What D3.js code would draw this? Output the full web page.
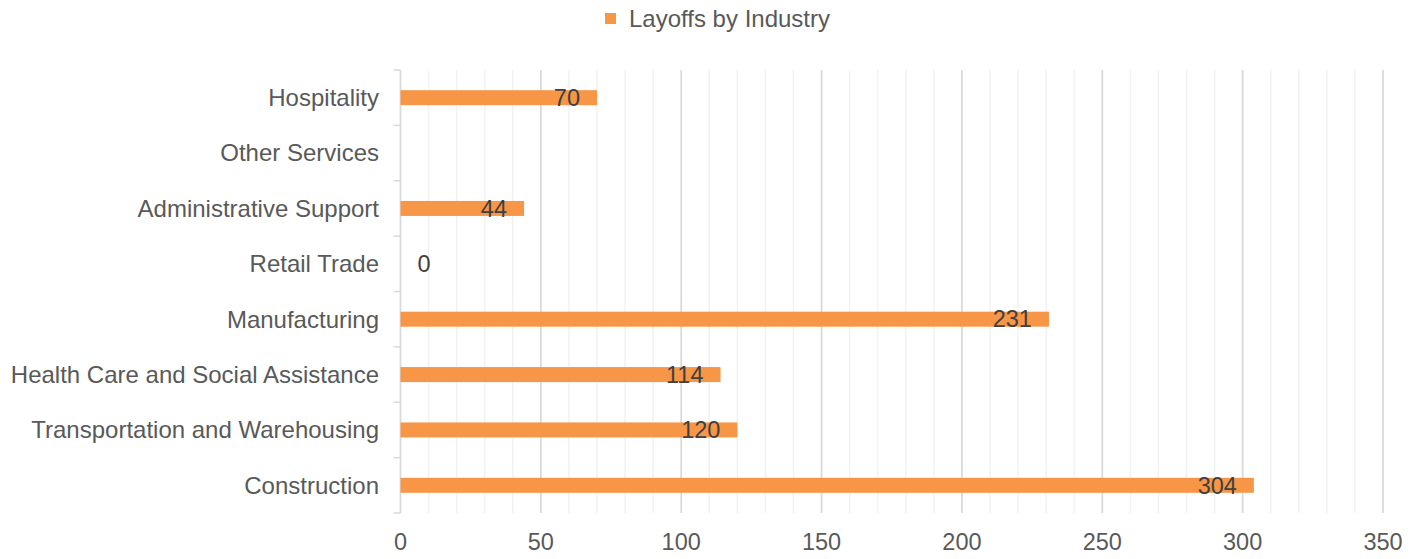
<!DOCTYPE html>
<html>
<head>
<meta charset="utf-8">
<script src="https://cdn.jsdelivr.net/npm/d3@7"></script>
<style>
  html, body { margin: 0; padding: 0; background: #fff; }
  svg { display: block; font-family: "Liberation Sans", Arial, sans-serif; }
</style>
</head>
<body>
<svg id="chart" width="1421" height="559"></svg>
<script>
// Layoffs by industry, listed top to bottom
const categories = [
  "Hospitality",
  "Other Services",
  "Administrative Support",
  "Retail Trade",
  "Manufacturing",
  "Health Care and Social Assistance",
  "Transportation and Warehousing",
  "Construction"
];
// null = no reported figure (no bar, no label)
const layoffs = [70, null, 44, 0, 231, 114, 120, 304];
const xTicks = [0, 50, 100, 150, 200, 250, 300, 350];
const seriesName = "Layoffs by Industry";

const svg = d3.select("#chart");
const margin = { left: 400.5, right: 38, top: 70, bottom: 46 };
const W = 1421, H = 559;
const textSize = 24, numSize = 23.5;

const x = d3.scaleLinear().domain([0, 350]).range([margin.left, W - margin.right]);
const y = d3.scaleBand().domain(categories).range([margin.top, H - margin.bottom]).paddingInner(0).paddingOuter(0);

// minor gridlines every 10
const minor = d3.range(10, 351, 10).filter(v => v % 50 !== 0);
svg.append("g").selectAll("line").data(minor).join("line")
  .attr("x1", d => x(d)).attr("x2", d => x(d))
  .attr("y1", margin.top).attr("y2", H - margin.bottom)
  .attr("stroke", "#f2f2f2").attr("stroke-width", 1.5);

// major gridlines
svg.append("g").selectAll("line").data(xTicks.filter(v => v > 0)).join("line")
  .attr("x1", d => x(d)).attr("x2", d => x(d))
  .attr("y1", margin.top).attr("y2", H - margin.bottom)
  .attr("stroke", "#d9d9d9").attr("stroke-width", 1.75);

// category axis line and boundary ticks
svg.append("line")
  .attr("x1", x(0)).attr("x2", x(0))
  .attr("y1", margin.top).attr("y2", H - margin.bottom)
  .attr("stroke", "#d9d9d9").attr("stroke-width", 1.75);
const bounds = categories.map(c => y(c)).concat([y.range()[1]]);
svg.append("g").selectAll("line").data(bounds).join("line")
  .attr("x1", x(0) - 7).attr("x2", x(0))
  .attr("y1", d => d).attr("y2", d => d)
  .attr("stroke", "#d9d9d9").attr("stroke-width", 1.5);

// category labels
svg.append("g").selectAll("text").data(categories).join("text")
  .attr("x", 379).attr("y", d => y(d) + y.bandwidth() / 2)
  .attr("dy", "0.35em").attr("text-anchor", "end")
  .attr("font-size", textSize).attr("fill", "#595959")
  .text(d => d);

// value axis labels
svg.append("g").selectAll("text").data(xTicks).join("text")
  .attr("x", d => x(d)).attr("y", 542)
  .attr("dy", "0.35em").attr("text-anchor", "middle")
  .attr("font-size", numSize).attr("fill", "#595959")
  .text(d => d);

// bars
const rows = categories.map((c, i) => ({ c, v: layoffs[i] })).filter(d => d.v !== null);
const barH = 15;
svg.append("g").selectAll("rect").data(rows.filter(d => d.v > 0)).join("rect")
  .attr("x", x(0)).attr("y", d => y(d.c) + y.bandwidth() / 2 - barH / 2)
  .attr("width", d => x(d.v) - x(0)).attr("height", barH)
  .attr("fill", "#f79646");

// value labels, inside the bar end
svg.append("g").selectAll("text").data(rows).join("text")
  .attr("y", d => y(d.c) + y.bandwidth() / 2)
  .attr("dy", "0.35em")
  .attr("font-size", numSize).attr("fill", "#404040")
  .text(d => d.v)
  .each(function (d) {
    const w = this.getComputedTextLength();
    const endX = x(d.v) - 17;
    if (endX - w < x(0)) {
      d3.select(this).attr("text-anchor", "start").attr("x", x(0) + 17);
    } else {
      d3.select(this).attr("text-anchor", "end").attr("x", endX);
    }
  });

// legend
const lg = svg.append("g");
lg.append("rect").attr("x", 605).attr("y", 13).attr("width", 11).attr("height", 11).attr("fill", "#f79646");
lg.append("text").attr("x", 629).attr("y", 19).attr("dy", "0.35em")
  .attr("font-size", textSize).attr("fill", "#595959").text(seriesName);
</script>
</body>
</html>
